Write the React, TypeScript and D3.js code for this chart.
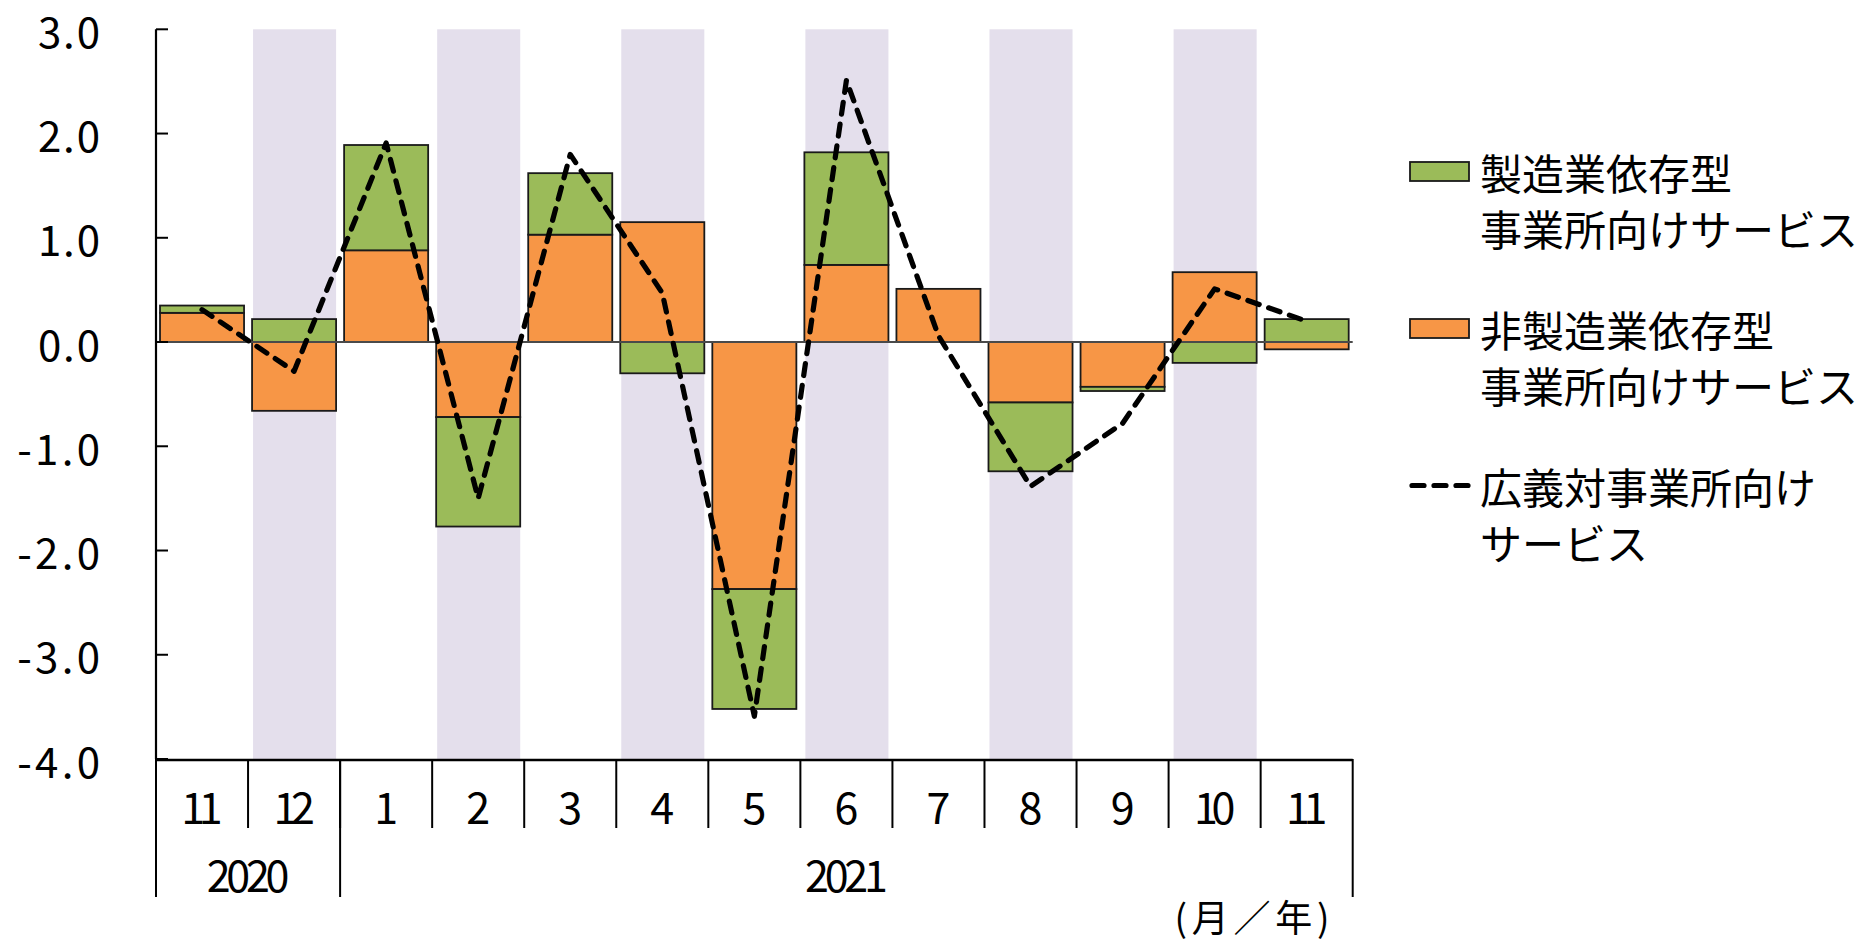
import React from "react";
import * as d3 from "d3";

// Month labels (Nov 2020 – Nov 2021)
const months = ["11", "12", "1", "2", "3", "4", "5", "6", "7", "8", "9", "10", "11"];
// Year groups: label and how many months each spans
const yearLabels = ["2020", "2021"];
const yearSpans = [2, 11];

// Contributions (percentage points)
const nonManufacturing = [0.28, -0.66, 0.88, -0.72, 1.03, 1.15, -2.37, 0.74, 0.51, -0.58, -0.43, 0.67, -0.07];
const manufacturing = [0.07, 0.22, 1.01, -1.05, 0.59, -0.3, -1.15, 1.08, 0.0, -0.66, -0.04, -0.2, 0.22];
// Broad business services (total)
const broadTotal = [0.31, -0.28, 1.91, -1.5, 1.8, 0.47, -3.59, 2.51, 0.06, -1.385, -0.78, 0.51, 0.2];

const yTicks = [3, 2, 1, 0, -1, -2, -3, -4];

const legendItems = [
  { kind: "bar", color: "#9BBB59", lines: ["製造業依存型", "事業所向けサービス"] },
  { kind: "bar", color: "#F79646", lines: ["非製造業依存型", "事業所向けサービス"] },
  { kind: "line", color: "#000", lines: ["広義対事業所向け", "サービス"] },
];

const FONT = "'Noto Sans CJK JP', 'Noto Sans', sans-serif";

export default function App() {
  const W = 1876;
  const H = 941;
  const left = 156;
  const right = 1352.7;
  const top = 29.3;
  const bottom = 759;

  const idx = months.map((_, i) => i);
  const x = d3
    .scaleBand<number>()
    .domain(idx)
    .range([left, right])
    .paddingInner(0.087)
    .paddingOuter(0.0435);
  const step = x.step();
  const y = d3.scaleLinear().domain([-4, 3]).range([bottom, top]);

  const rows = idx.map((i) => ({ non: nonManufacturing[i], man: manufacturing[i] }));
  const stack = d3
    .stack<any>()
    .keys(["non", "man"])
    .offset(d3.stackOffsetDiverging);
  const series = stack(rows);
  const colors: Record<string, string> = { non: "#F79646", man: "#9BBB59" };

  const line = d3
    .line<number>()
    .x((_, i) => (x(i) as number) + x.bandwidth() / 2)
    .y((d) => y(d));

  const boundary = (i: number) => left + i * step;

  // year separators
  const yearBounds: number[] = [0];
  yearSpans.forEach((s) => yearBounds.push(yearBounds[yearBounds.length - 1] + s));

  const numLen = (s: string) => 20.7 * s.length;

  return (
    <svg
      width={W}
      height={H}
      style={{ position: "absolute", left: 0, top: 0, background: "#fff" }}
      fontFamily={FONT}
    >
      <rect x={0} y={0} width={W} height={H} fill="#fff" />

      {/* alternating month shading */}
      {idx
        .filter((i) => i % 2 === 1)
        .map((i) => (
          <rect
            key={"band" + i}
            x={(x(i) as number) + 1}
            y={y(3)}
            width={x.bandwidth() - 1}
            height={y(-4) - y(3)}
            fill="#E4DFEC"
          />
        ))}

      {/* stacked bars */}
      {series.map((s) =>
        s.map((d, i) => {
          const y0 = y(d[0]);
          const y1 = y(d[1]);
          const h = Math.abs(y0 - y1);
          if (h < 0.01) return null;
          return (
            <rect
              key={s.key + i}
              x={x(i) as number}
              y={Math.min(y0, y1)}
              width={x.bandwidth()}
              height={h}
              fill={colors[s.key]}
              stroke="#1a1a1a"
              strokeWidth={1.8}
            />
          );
        })
      )}

      {/* zero line */}
      <line x1={left} x2={right} y1={y(0)} y2={y(0)} stroke="#4a4a4a" strokeWidth={2} />

      {/* total line */}
      <path
        d={line(broadTotal) || ""}
        fill="none"
        stroke="#000"
        strokeWidth={5.2}
        strokeDasharray="12 10"
        strokeLinecap="round"
        strokeLinejoin="round"
      />

      {/* y axis */}
      <line x1={left} x2={left} y1={top} y2={bottom} stroke="#000" strokeWidth={2.2} />
      {yTicks.map((t) => (
        <g key={"yt" + t}>
          <line x1={left} x2={left + 12} y1={y(t)} y2={y(t)} stroke="#000" strokeWidth={2} />
          <text
            x={100}
            y={y(t)}
            textAnchor="end"
            dominantBaseline="central"
            fontSize={42}
            textLength={numLen(t.toFixed(1))}
            lengthAdjust="spacing"
            fill="#000"
          >
            {t.toFixed(1)}
          </text>
        </g>
      ))}

      {/* x axis */}
      <line x1={left} x2={right} y1={bottom + 1} y2={bottom + 1} stroke="#000" strokeWidth={2.6} />
      {idx.slice(1).map((i) => (
        <line
          key={"sep" + i}
          x1={boundary(i)}
          x2={boundary(i)}
          y1={bottom}
          y2={828}
          stroke="#000"
          strokeWidth={2}
        />
      ))}
      {yearBounds.map((b) => (
        <line
          key={"ysep" + b}
          x1={boundary(b)}
          x2={boundary(b)}
          y1={bottom}
          y2={897}
          stroke="#000"
          strokeWidth={2}
        />
      ))}
      {months.map((m, i) => (
        <text
          key={"m" + i}
          x={(x(i) as number) + x.bandwidth() / 2}
          y={805}
          textAnchor="middle"
          dominantBaseline="central"
          fontSize={43}
          textLength={numLen(m)}
          lengthAdjust="spacing"
          fill="#000"
        >
          {m}
        </text>
      ))}
      {yearLabels.map((yl, k) => (
        <text
          key={"y" + yl}
          x={(boundary(yearBounds[k]) + boundary(yearBounds[k + 1])) / 2}
          y={873}
          textAnchor="middle"
          dominantBaseline="central"
          fontSize={43}
          textLength={numLen(yl)}
          lengthAdjust="spacing"
          fill="#000"
        >
          {yl}
        </text>
      ))}
      <text
        x={1252}
        y={916}
        textAnchor="middle"
        dominantBaseline="central"
        fontSize={37}
        textLength={155}
        lengthAdjust="spacing"
        fill="#000"
      >
        (月／年)
      </text>

      {/* legend */}
      {legendItems.map((item, k) => {
        const cy = 171.5 + k * 157;
        return (
          <g key={"lg" + k}>
            {item.kind === "bar" ? (
              <rect
                x={1410}
                y={cy - 9.5}
                width={59}
                height={19}
                fill={item.color}
                stroke="#1a1a1a"
                strokeWidth={1.8}
              />
            ) : (
              <line
                x1={1412}
                x2={1468}
                y1={cy}
                y2={cy}
                stroke="#000"
                strokeWidth={5.2}
                strokeDasharray="12 10"
                strokeLinecap="round"
              />
            )}
            {item.lines.map((ln, j) => (
              <text
                key={j}
                x={1480}
                y={cy + j * 56}
                dominantBaseline="central"
                fontSize={42}
                fill="#000"
              >
                {ln}
              </text>
            ))}
          </g>
        );
      })}
    </svg>
  );
}
